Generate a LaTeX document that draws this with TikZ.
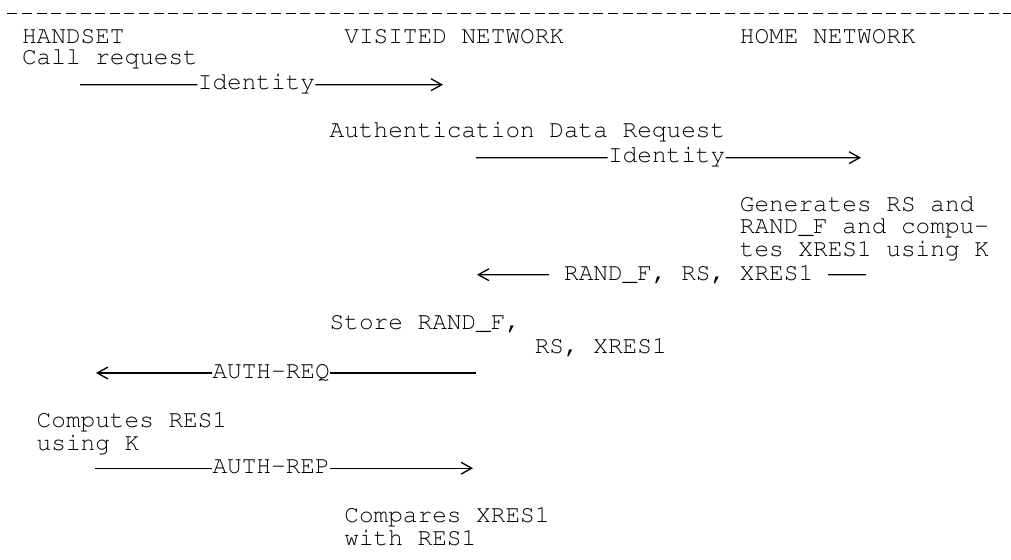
\documentclass[tikz,border=0pt]{standalone}
\usepackage[T1]{fontenc}
\usepackage{courier}
\usetikzlibrary{arrows.meta}
\newcommand\colx[1]{7+14.65*#1}

\begin{document}
\begin{tikzpicture}[x=0.4915pt,y=-0.4915pt,
  txt/.style={anchor=base west,inner sep=0pt,font=\fontsize{12}{14}\selectfont\ttfamily},
  msg/.style={line width=0.65pt},
  headto/.style={-{Straight Barb[length=5.2pt,width=5.8pt]}}]
\useasboundingbox (0,0) rectangle (1011,560);
\draw[msg,dash pattern=on 4.9pt off 2.3pt] (7.3,13.3) -- (1011,13.3);
\foreach \c/\t/\n in {1/HANDSET/hs,23/VISITED NETWORK/vn,50/HOME NETWORK/hn}
  \node[txt] (\n) at (\colx{\c},43.3) {\t};
\node[txt] (call) at (\colx{1},65) {Call request};
% handset -> visited
\node[txt] (id1) at (\colx{13},90) {Identity};
\coordinate (id1s) at (80,84.7);
\coordinate (id1e) at (443,84.7);
\draw[msg] (id1s) -- ([shift={(0,-5.3)}]id1.base west);
\draw[msg,headto] ([shift={(0,-5.3)}]id1.base east) -- (id1e);
\node[txt] (adr) at (\colx{22},138) {Authentication Data Request};
% visited -> home
\node[txt] (id2) at (\colx{41},163) {Identity};
\coordinate (id2s) at (475.8,157.7);
\coordinate (id2e) at (861,157.7);
\draw[msg] (id2s) -- ([shift={(0,-5.3)}]id2.base west);
\draw[msg,headto] ([shift={(0,-5.3)}]id2.base east) -- (id2e);
\node[txt] (gen1) at (\colx{50},211.7) {Generates RS and};
\node[txt] (gen2) at (\colx{50},234) {RAND\_F and compu-};
\node[txt] (gen3) at (\colx{50},256.7) {tes XRES1 using K};
% home -> visited
\node[txt] (rnd) at (\colx{38},280) {RAND\_F, RS, XRES1};
\coordinate (rnds) at (866,274.7);
\coordinate (rnde) at (477,274.7);
\draw[msg] (rnds) -- ([shift={(14.65,-5.3)}]rnd.base east);
\draw[msg,headto] ([shift={(-14.65,-5.3)}]rnd.base west) -- (rnde);
\node[txt] (sto1) at (\colx{22},330) {Store RAND\_F,};
\node[txt] (sto2) at (\colx{36},353.3) {RS, XRES1};
% visited -> handset
\node[txt] (areq) at (\colx{14},378.3) {AUTH-REQ};
\coordinate (areqs) at (475.8,373);
\coordinate (areqe) at (96,373);
\draw[msg] (areqs) -- ([shift={(0,-5.3)}]areq.base east);
\draw[msg,headto] ([shift={(0,-5.3)}]areq.base west) -- (areqe);
\node[txt] (cmp1) at (\colx{2},427.3) {Computes RES1};
\node[txt] (cmp2) at (\colx{2},450) {using K};
% handset -> visited
\node[txt] (arep) at (\colx{14},473.5) {AUTH-REP};
\coordinate (areps) at (94.9,468.2);
\coordinate (arepe) at (473,468.2);
\draw[msg] (areps) -- ([shift={(0,-5.3)}]arep.base west);
\draw[msg,headto] ([shift={(0,-5.3)}]arep.base east) -- (arepe);
\node[txt] (cps1) at (\colx{23},522.7) {Compares XRES1};
\node[txt] (cps2) at (\colx{23},545) {with RES1};
\end{tikzpicture}
\end{document}
